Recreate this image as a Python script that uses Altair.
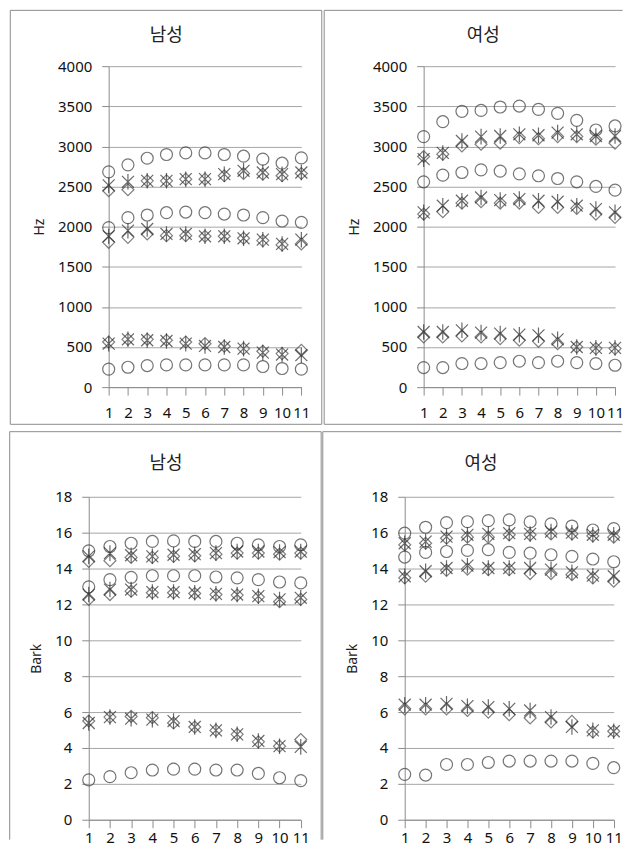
import altair as alt
import pandas as pd

# ---------------- data ----------------
X_LABELS = list(range(1, 12))
SERIES = ["circle", "diamond", "star"]
FORMANTS = ["F1", "F2", "F3"]

# 남성, Hz
HZ_M_CIRCLE_F1 = [224, 248, 269, 277, 277, 277, 277, 277, 257, 232, 224]
HZ_M_CIRCLE_F2 = [1988, 2112, 2145, 2174, 2182, 2174, 2157, 2145, 2112, 2070, 2054]
HZ_M_CIRCLE_F3 = [2683, 2770, 2853, 2899, 2919, 2919, 2899, 2878, 2841, 2791, 2857]
HZ_M_DIAMOND_F1 = [563, 596, 596, 584, 563, 542, 509, 480, 447, 418, 460]
HZ_M_DIAMOND_F2 = [1805, 1867, 1909, 1888, 1888, 1880, 1880, 1855, 1826, 1772, 1785]
HZ_M_DIAMOND_F3 = [2447, 2460, 2571, 2571, 2592, 2592, 2634, 2663, 2654, 2634, 2663]
HZ_M_STAR_F1 = [542, 596, 584, 575, 542, 513, 500, 480, 430, 406, 398]
HZ_M_STAR_F2 = [1880, 1950, 1971, 1909, 1909, 1880, 1880, 1855, 1838, 1785, 1838]
HZ_M_STAR_F3 = [2515, 2559, 2571, 2571, 2592, 2592, 2654, 2696, 2675, 2654, 2675]

# 여성, Hz
HZ_F_CIRCLE_F1 = [244, 244, 294, 294, 306, 323, 306, 323, 306, 294, 273]
HZ_F_CIRCLE_F2 = [2559, 2642, 2675, 2708, 2692, 2658, 2634, 2600, 2559, 2501, 2455]
HZ_F_CIRCLE_F3 = [3122, 3308, 3437, 3449, 3491, 3503, 3462, 3412, 3325, 3205, 3255]
HZ_F_DIAMOND_F1 = [625, 625, 638, 625, 605, 584, 571, 542, 500, 480, 480]
HZ_F_DIAMOND_F2 = [2157, 2186, 2294, 2311, 2294, 2294, 2240, 2240, 2228, 2157, 2116]
HZ_F_DIAMOND_F3 = [2874, 2903, 3006, 3027, 3040, 3110, 3097, 3122, 3122, 3089, 3040]
HZ_F_STAR_F1 = [687, 687, 708, 679, 667, 654, 646, 596, 500, 489, 489]
HZ_F_STAR_F2 = [2178, 2261, 2323, 2364, 2331, 2344, 2323, 2311, 2261, 2219, 2178]
HZ_F_STAR_F3 = [2841, 2919, 3068, 3122, 3130, 3151, 3139, 3172, 3151, 3130, 3130]

# 남성, Bark
BK_M_CIRCLE_F1 = [2.22, 2.40, 2.62, 2.77, 2.82, 2.82, 2.77, 2.77, 2.58, 2.34, 2.18]
BK_M_CIRCLE_F2 = [12.98, 13.38, 13.51, 13.60, 13.60, 13.60, 13.53, 13.48, 13.38, 13.25, 13.20]
BK_M_CIRCLE_F3 = [14.99, 15.23, 15.41, 15.51, 15.54, 15.51, 15.51, 15.41, 15.32, 15.23, 15.32]
BK_M_DIAMOND_F1 = [5.50, 5.72, 5.76, 5.69, 5.39, 5.17, 4.98, 4.76, 4.34, 4.10, 4.47]
BK_M_DIAMOND_F2 = [12.28, 12.55, 12.74, 12.65, 12.65, 12.61, 12.55, 12.52, 12.41, 12.15, 12.28]
BK_M_DIAMOND_F3 = [14.40, 14.44, 14.62, 14.62, 14.68, 14.71, 14.80, 14.86, 14.86, 14.80, 14.86]
BK_M_STAR_F1 = [5.39, 5.72, 5.63, 5.58, 5.50, 5.17, 4.98, 4.76, 4.39, 4.10, 4.06]
BK_M_STAR_F2 = [12.55, 12.83, 12.83, 12.69, 12.69, 12.65, 12.59, 12.55, 12.46, 12.28, 12.37]
BK_M_STAR_F3 = [14.68, 14.86, 14.74, 14.68, 14.77, 14.80, 14.86, 14.95, 14.95, 14.92, 14.95]

# 여성, Bark
BK_F_CIRCLE_F1 = [2.53, 2.49, 3.08, 3.08, 3.19, 3.27, 3.27, 3.27, 3.27, 3.14, 2.90]
BK_F_CIRCLE_F2 = [14.64, 14.90, 14.95, 15.01, 15.05, 14.90, 14.86, 14.77, 14.68, 14.53, 14.38]
BK_F_CIRCLE_F3 = [15.97, 16.30, 16.56, 16.61, 16.67, 16.71, 16.60, 16.49, 16.37, 16.15, 16.23]
BK_F_DIAMOND_F1 = [6.18, 6.18, 6.18, 6.09, 6.00, 5.85, 5.67, 5.45, 5.48, 4.89, 4.93]
BK_F_DIAMOND_F2 = [13.48, 13.57, 13.90, 13.97, 13.94, 13.94, 13.72, 13.72, 13.66, 13.48, 13.29]
BK_F_DIAMOND_F3 = [15.32, 15.41, 15.69, 15.75, 15.75, 15.88, 15.88, 15.93, 15.93, 15.82, 15.75]
BK_F_STAR_F1 = [6.41, 6.41, 6.46, 6.33, 6.28, 6.18, 6.09, 5.72, 5.17, 4.98, 4.93]
BK_F_STAR_F2 = [13.57, 13.85, 14.03, 14.16, 14.03, 14.03, 14.03, 13.94, 13.79, 13.60, 13.57]
BK_F_STAR_F3 = [15.41, 15.50, 15.78, 15.88, 15.93, 15.97, 15.93, 16.06, 16.00, 15.88, 15.88]

HZ_TICKS = [0, 500, 1000, 1500, 2000, 2500, 3000, 3500, 4000]
BARK_TICKS = [0, 2, 4, 6, 8, 10, 12, 14, 16, 18]

PANELS = {
    "hz_m": {"circle": [HZ_M_CIRCLE_F1, HZ_M_CIRCLE_F2, HZ_M_CIRCLE_F3],
             "diamond": [HZ_M_DIAMOND_F1, HZ_M_DIAMOND_F2, HZ_M_DIAMOND_F3],
             "star": [HZ_M_STAR_F1, HZ_M_STAR_F2, HZ_M_STAR_F3]},
    "hz_f": {"circle": [HZ_F_CIRCLE_F1, HZ_F_CIRCLE_F2, HZ_F_CIRCLE_F3],
             "diamond": [HZ_F_DIAMOND_F1, HZ_F_DIAMOND_F2, HZ_F_DIAMOND_F3],
             "star": [HZ_F_STAR_F1, HZ_F_STAR_F2, HZ_F_STAR_F3]},
    "bk_m": {"circle": [BK_M_CIRCLE_F1, BK_M_CIRCLE_F2, BK_M_CIRCLE_F3],
             "diamond": [BK_M_DIAMOND_F1, BK_M_DIAMOND_F2, BK_M_DIAMOND_F3],
             "star": [BK_M_STAR_F1, BK_M_STAR_F2, BK_M_STAR_F3]},
    "bk_f": {"circle": [BK_F_CIRCLE_F1, BK_F_CIRCLE_F2, BK_F_CIRCLE_F3],
             "diamond": [BK_F_DIAMOND_F1, BK_F_DIAMOND_F2, BK_F_DIAMOND_F3],
             "star": [BK_F_STAR_F1, BK_F_STAR_F2, BK_F_STAR_F3]},
}


def panel_frame(key):
    rows = []
    for s in SERIES:
        for fi, f in enumerate(FORMANTS):
            for t, v in zip(X_LABELS, PANELS[key][s][fi]):
                rows.append({"t": t, "v": v, "series": s, "formant": f})
    return pd.DataFrame(rows)


STAR_PATH = "M-1,-1L1,1M-1,1L1,-1M0,-1.3L0,1.3"
FRAME_COLOR = "#8c8c8c"
ONE_ROW = alt.Data(values=[{"k": 0}])


def edge_v(x, y1, y2):
    return alt.Chart(ONE_ROW).mark_rule(color=FRAME_COLOR, strokeWidth=1).encode(
        x=alt.value(x), y=alt.value(y1), y2=alt.value(y2))


def edge_h(y, x1, x2):
    return alt.Chart(ONE_ROW).mark_rule(color=FRAME_COLOR, strokeWidth=1).encode(
        y=alt.value(y), x=alt.value(x1), x2=alt.value(x2))


def title_text(text, x, y):
    return alt.Chart(ONE_ROW).mark_text(
        text=text, font="Noto Sans CJK KR", fontSize=18, color="#222222",
        align="center", baseline="middle").encode(x=alt.value(x), y=alt.value(y))


def spacer():
    return alt.Chart(ONE_ROW).mark_point(size=0, opacity=0).encode(
        x=alt.value(0), y=alt.value(0)).properties(width=1, height=1)


def make_panel(key, title, unit, ticks, W, H, edges, tx, ty, xpad):
    df = panel_frame(key)
    pts = alt.Chart(df).mark_point(filled=False, size=144, strokeWidth=1.2, clip=False).encode(
        x=alt.X("t:Q", scale=alt.Scale(domain=[1, 11], nice=False, zero=False),
                axis=alt.Axis(values=X_LABELS, format="d", title=None, grid=False,
                              labelPadding=xpad, tickSize=8, labelFlush=False)),
        y=alt.Y("v:Q", scale=alt.Scale(domain=[ticks[0], ticks[-1]], nice=False, zero=True),
                axis=alt.Axis(values=ticks, format="d", title=unit, grid=True, tickSize=7,
                              labelPadding=10, titlePadding=11, labelFlush=False)),
        shape=alt.Shape("series:N", scale=alt.Scale(domain=SERIES,
                        range=["circle", "diamond", STAR_PATH]), legend=None),
        color=alt.Color("series:N", scale=alt.Scale(domain=SERIES,
                        range=["#3c3c3c", "#4a4a4a", "#2a2a2a"]), legend=None),
    )
    layers = [e for e in edges] + [title_text(title, tx, ty), pts]
    return alt.layer(*layers).properties(width=W, height=H)


# top-left (남성, Hz)
tl = make_panel("hz_m", "남성", "Hz", HZ_TICKS, 193.3, 322,
                [edge_v(-98.7, -56, 359.3), edge_h(-56, -98.7, 213.8),
                 edge_v(213.8, -56, 359.3), edge_h(359.3, -98.7, 213.8)],
                57.8, -30.5, 10)
# top-right (여성, Hz)
tr = make_panel("hz_f", "여성", "Hz", HZ_TICKS, 192, 322,
                [edge_v(-99.8, -56, 359.3), edge_h(-56, -99.8, 199.7),
                 edge_h(359.3, -99.8, 199.7)],
                59.7, -30.5, 10)
# bottom-left (남성, Bark)
bl = make_panel("bk_m", "남성", "Bark", BARK_TICKS, 212.7, 324,
                [edge_v(-79.3, -65.3, 344), edge_h(-65.3, -79.3, 233.2),
                 edge_v(233.2, -65.3, 344)],
                77.4, -33.0, 3)
# bottom-right (여성, Bark)
br = make_panel("bk_f", "여성", "Bark", BARK_TICKS, 209.7, 324,
                [edge_v(-82.2, -65.3, 344), edge_h(-65.3, -82.2, 217.3)],
                76.6, -33.0, 3)

chart = alt.vconcat(
    alt.hconcat(spacer(), tl, tr, spacing=0),
    alt.hconcat(spacer(), bl, br, spacing=0),
    spacing=6,
).properties(
    padding={"left": 0, "top": 0, "right": 0, "bottom": 0}
).configure_view(
    strokeWidth=0
).configure_axis(
    labelFont="Noto Sans", labelFontSize=15, labelColor="#111111",
    titleFont="Noto Sans", titleFontSize=14, titleFontWeight="normal", titleColor="#222222",
    domainColor="#8c8c8c", tickColor="#8c8c8c", gridColor="#a6a6a6",
    domainWidth=1, tickWidth=1, gridWidth=1,
)

chart.save("out.html", embed_options={"renderer": "svg", "actions": False})
